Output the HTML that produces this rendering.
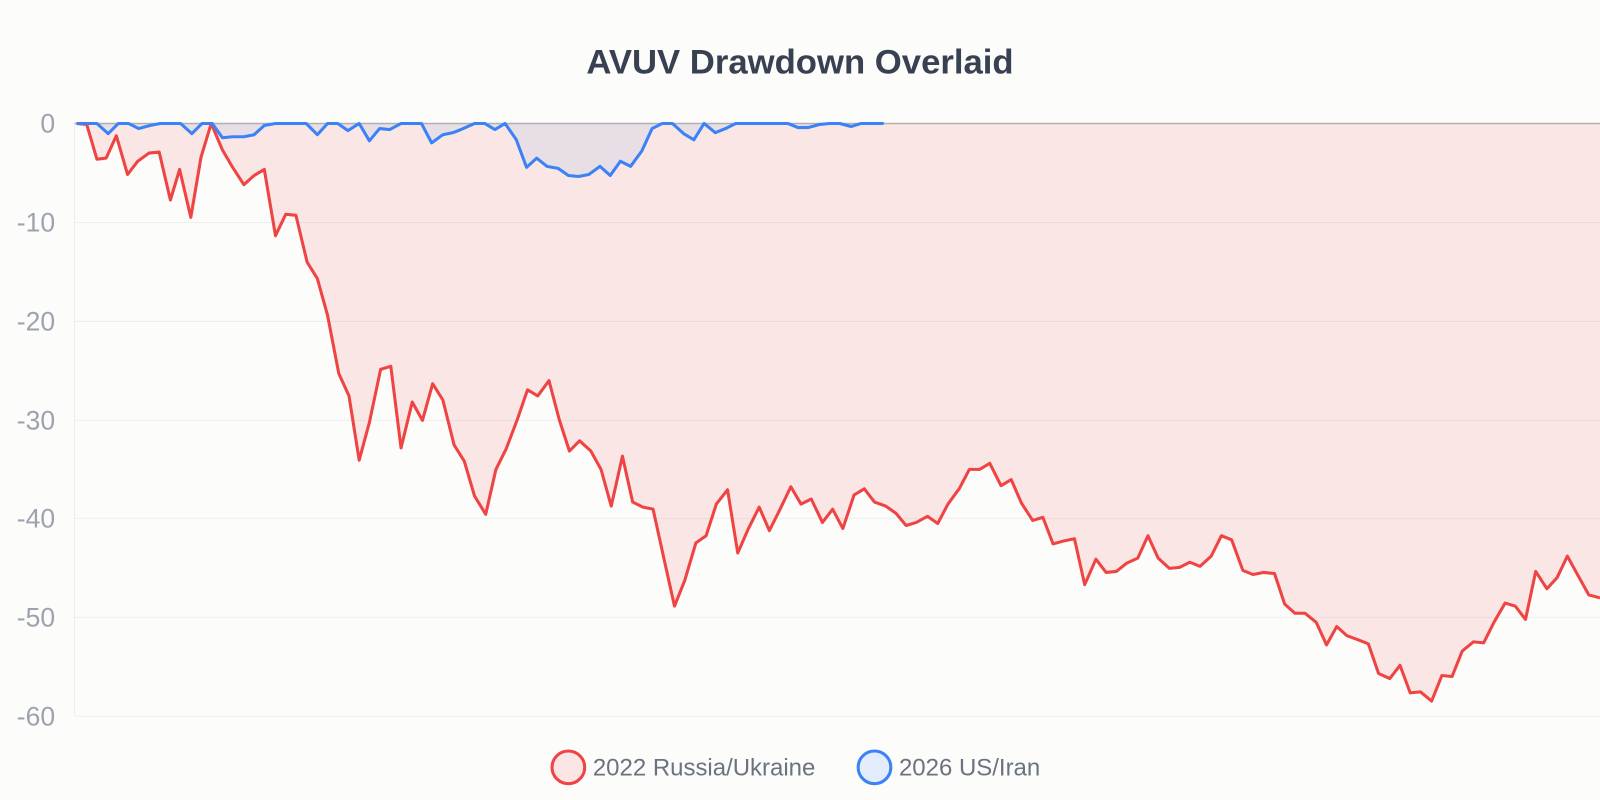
<!DOCTYPE html>
<html><head><meta charset="utf-8"><style>
html,body{margin:0;padding:0;background:#fcfcfa;}
svg{display:block;font-family:"Liberation Sans",sans-serif;}
</style></head><body>
<svg width="1600" height="800" viewBox="0 0 1568 784" xmlns="http://www.w3.org/2000/svg">
<rect width="1568" height="784" fill="#fcfcfa"/>
<text x="784" y="72" text-anchor="middle" font-size="34" font-weight="bold" fill="#374151">AVUV Drawdown Overlaid</text>
<g stroke="#eeeeee" stroke-width="1">
<line x1="73" y1="218" x2="1568" y2="218"/><line x1="73" y1="315" x2="1568" y2="315"/>
<line x1="73" y1="412" x2="1568" y2="412"/><line x1="73" y1="508" x2="1568" y2="508"/>
<line x1="73" y1="605" x2="1568" y2="605"/><line x1="73" y1="702" x2="1568" y2="702"/>
<line x1="73" y1="121" x2="73" y2="702"/>
</g>
<g font-size="26" fill="#9ca3af" text-anchor="end">
<text x="54" y="130">0</text><text x="54" y="227">-10</text><text x="54" y="324">-20</text>
<text x="54" y="421">-30</text><text x="54" y="517">-40</text><text x="54" y="614">-50</text><text x="54" y="711">-60</text>
</g>
<polygon fill="rgba(239,68,68,0.11)" points="75,121 85,122 95,156 104,155 114,133 125,171 135,158 146,150 156,149 167,196 176,166 187,213 197,154 207,121 218,147 228,164 239,181 249,172 259,166 270,231 280,210 290,211 301,257 311,273 321,309 332,366 342,388 352,451 362,414 373,362 383,359 393,439 404,394 414,412 424,376 434,392 445,436 455,452 465,486 476,504 486,460 496,440 507,411 517,382 527,388 538,373 548,411 558,442 568,432 579,442 589,460 599,496 610,447 620,492 630,497 640,499 651,549 661,594 671,569 682,532 692,525 702,494 713,480 723,542 733,519 744,497 754,520 764,500 775,477 785,494 795,489 806,512 816,499 826,518 837,485 847,479 857,492 868,496 878,503 888,515 898,512 909,506 919,513 929,494 940,479 950,460 960,460 970,454 981,476 991,470 1001,493 1012,510 1022,507 1032,533 1043,530 1053,528 1063,573 1074,548 1084,561 1094,560 1104,552 1115,547 1125,525 1135,547 1146,557 1156,556 1166,551 1176,555 1187,545 1197,525 1207,529 1218,559 1228,563 1238,561 1249,562 1259,592 1269,601 1279,601 1290,610 1300,632 1310,614 1320,623 1331,627 1341,631 1351,660 1362,665 1372,652 1382,679 1392,678 1403,687 1413,662 1423,663 1433,638 1444,629 1454,630 1464,610 1475,591 1485,594 1495,607 1505,560 1516,577 1526,566 1536,545 1547,565 1557,583 1568,586 1568,121"/>
<polygon fill="rgba(59,130,246,0.09)" points="75,121 85,121 95,121 106,131 116,121 126,121 136,126 147,123 157,121 167,121 177,121 188,131 198,121 208,121 218,135 228,134 239,134 249,132 259,123 270,121 280,121 290,121 300,121 311,132 321,121 331,121 341,128 352,121 362,138 372,126 382,127 393,121 403,121 413,121 423,140 434,132 444,130 454,126 465,121 475,121 485,127 495,121 506,137 516,164 526,155 536,163 547,165 557,172 567,173 577,171 588,163 598,172 608,158 618,163 629,148 639,126 649,121 659,121 670,131 680,137 690,121 701,130 711,126 721,121 772,121 782,125 792,125 803,122 813,121 823,121 834,124 844,121 854,121 866,121"/>
<line x1="73" y1="121" x2="1568" y2="121" stroke="#b0b0b0" stroke-width="1.5"/>
<polyline fill="none" stroke="#ef4444" stroke-width="3" stroke-linejoin="round" points="75,121 85,122 95,156 104,155 114,133 125,171 135,158 146,150 156,149 167,196 176,166 187,213 197,154 207,121 218,147 228,164 239,181 249,172 259,166 270,231 280,210 290,211 301,257 311,273 321,309 332,366 342,388 352,451 362,414 373,362 383,359 393,439 404,394 414,412 424,376 434,392 445,436 455,452 465,486 476,504 486,460 496,440 507,411 517,382 527,388 538,373 548,411 558,442 568,432 579,442 589,460 599,496 610,447 620,492 630,497 640,499 651,549 661,594 671,569 682,532 692,525 702,494 713,480 723,542 733,519 744,497 754,520 764,500 775,477 785,494 795,489 806,512 816,499 826,518 837,485 847,479 857,492 868,496 878,503 888,515 898,512 909,506 919,513 929,494 940,479 950,460 960,460 970,454 981,476 991,470 1001,493 1012,510 1022,507 1032,533 1043,530 1053,528 1063,573 1074,548 1084,561 1094,560 1104,552 1115,547 1125,525 1135,547 1146,557 1156,556 1166,551 1176,555 1187,545 1197,525 1207,529 1218,559 1228,563 1238,561 1249,562 1259,592 1269,601 1279,601 1290,610 1300,632 1310,614 1320,623 1331,627 1341,631 1351,660 1362,665 1372,652 1382,679 1392,678 1403,687 1413,662 1423,663 1433,638 1444,629 1454,630 1464,610 1475,591 1485,594 1495,607 1505,560 1516,577 1526,566 1536,545 1547,565 1557,583 1568,586"/>
<polyline fill="none" stroke="#3b82f6" stroke-width="3" stroke-linejoin="round" points="75,121 85,121 95,121 106,131 116,121 126,121 136,126 147,123 157,121 167,121 177,121 188,131 198,121 208,121 218,135 228,134 239,134 249,132 259,123 270,121 280,121 290,121 300,121 311,132 321,121 331,121 341,128 352,121 362,138 372,126 382,127 393,121 403,121 413,121 423,140 434,132 444,130 454,126 465,121 475,121 485,127 495,121 506,137 516,164 526,155 536,163 547,165 557,172 567,173 577,171 588,163 598,172 608,158 618,163 629,148 639,126 649,121 659,121 670,131 680,137 690,121 701,130 711,126 721,121 772,121 782,125 792,125 803,122 813,121 823,121 834,124 844,121 854,121 866,121"/>
<circle cx="557" cy="752" r="16" fill="#fbe4e4" stroke="#ef4444" stroke-width="3"/>
<text x="581" y="760" font-size="23.5" fill="#6b7280">2022 Russia/Ukraine</text>
<circle cx="857" cy="752" r="16" fill="#e3ecfb" stroke="#3b82f6" stroke-width="3"/>
<text x="881" y="760" font-size="23.5" fill="#6b7280">2026 US/Iran</text>
</svg>
</body></html>
